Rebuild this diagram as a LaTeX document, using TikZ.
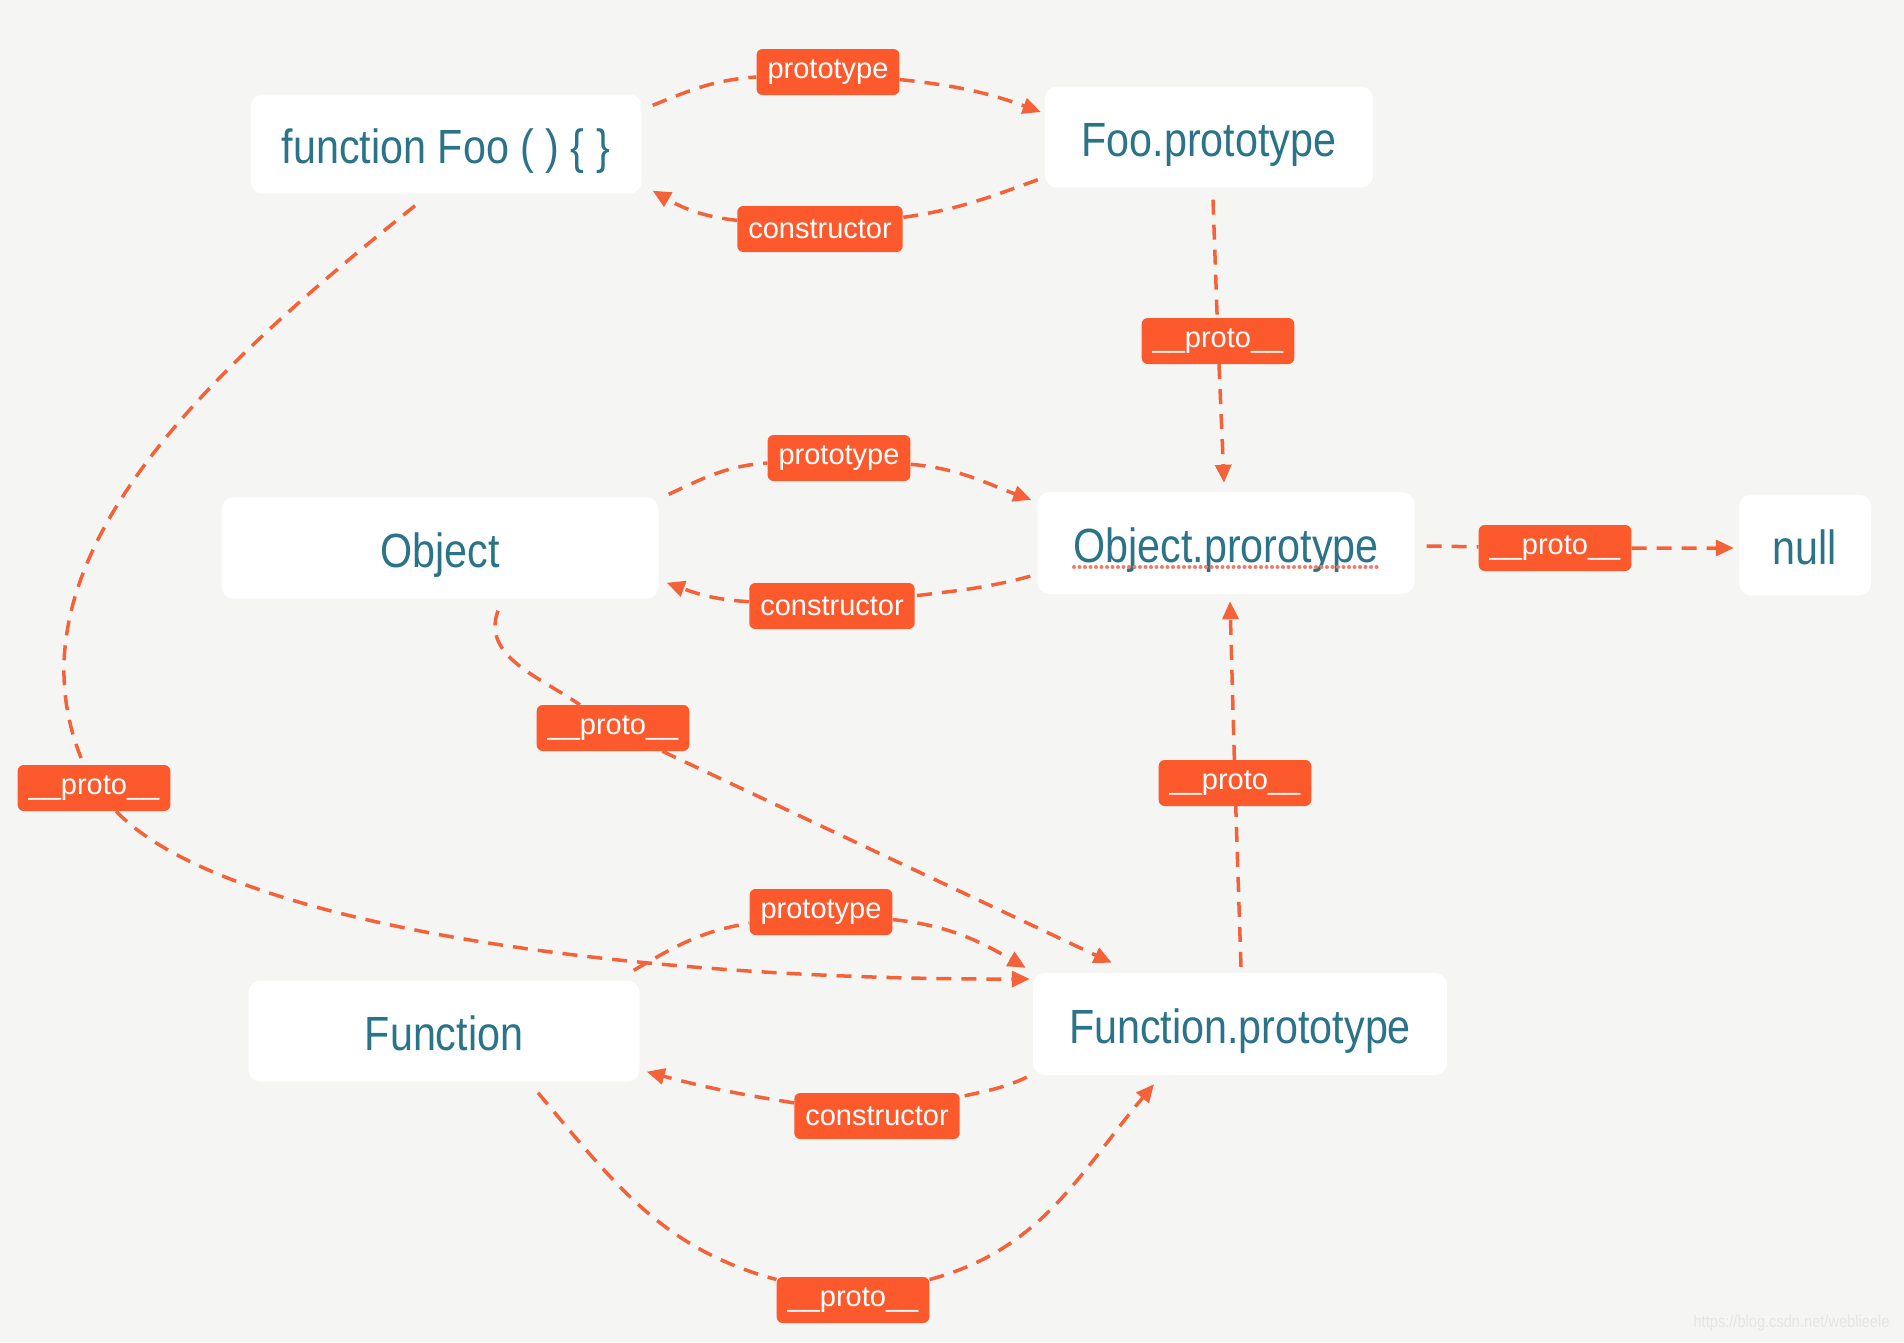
\documentclass[tikz,border=0pt]{standalone}
\usepackage{fontspec}
\usepackage{xcolor}
\usepackage{tikz}
\usetikzlibrary{arrows.meta}
\setmainfont{Liberation Sans}[FakeStretch=0.86]
\newfontfamily\tagfont{Liberation Sans}
\definecolor{bgcol}{HTML}{F5F6F4}
\definecolor{tagcol}{HTML}{FC5A2D}
\definecolor{linkcol}{HTML}{F4623A}
\definecolor{txtcol}{HTML}{2A7389}
\definecolor{markcol}{HTML}{E4E6E4}
\definecolor{spellcol}{HTML}{F07A6A}

\begin{document}
\begin{tikzpicture}[x=1pt,y=1pt,
   box/.style={fill=white, rounded corners=12pt, text=txtcol, inner sep=0pt, text height=38pt, text depth=0pt, font=\fontsize{48}{56}\selectfont},
   tag/.style={fill=tagcol, rounded corners=6pt, text=white, inner xsep=11pt, inner ysep=0pt, minimum width=142pt, minimum height=46pt, font=\tagfont\fontsize{29}{34}\selectfont},
   plain/.style={draw=linkcol, line width=3.5pt, dash pattern=on 15pt off 10pt},
   link/.style={plain, -{Triangle[length=18pt,width=16pt]}}]
   \fill[bgcol] (0,0) rectangle (1904,-1342);
   \useasboundingbox (0,0) rectangle (1904,-1342);
   % boxes
   \node[box, minimum width=391pt, minimum height=99pt] (foo) at (446,-144) {function Foo ( ) \{ \}};
   \node[box, minimum width=328pt, minimum height=101pt] (fooproto) at (1209,-137) {Foo.prototype};
   \node[box, minimum width=437pt, minimum height=101pt] (obj) at (440,-548) {Object};
   \node[box, minimum width=377pt, minimum height=102pt] (objproto) at (1226,-543) {Object.prorotype};
   \node[box, minimum width=132pt, minimum height=101pt] (null) at (1805,-545) {null};
   \node[box, minimum width=391pt, minimum height=101pt] (func) at (444,-1031) {Function};
   \node[box, minimum width=414pt, minimum height=102pt] (funcproto) at (1240,-1024) {Function.prototype};
   \draw[spellcol, line width=4pt, dash pattern=on 0pt off 5.5pt, line cap=round] ([shift={(-152,-24)}]objproto.center) -- ([shift={(152,-24)}]objproto.center);
   % labels
   \node[tag] (pt1) at (828,-72) {prototype};
   \node[tag] (ct1) at (820,-229) {constructor};
   \node[tag] (px1) at (1218,-341) {\_\_proto\_\_};
   \node[tag] (pt2) at (839,-458) {prototype};
   \node[tag] (ct2) at (832,-606) {constructor};
   \node[tag] (px2) at (1555,-548) {\_\_proto\_\_};
   \node[tag] (px3) at (613,-728) {\_\_proto\_\_};
   \node[tag] (px4) at (94,-788) {\_\_proto\_\_};
   \node[tag] (px5) at (1235,-783) {\_\_proto\_\_};
   \node[tag] (pt3) at (821,-912) {prototype};
   \node[tag] (ct3) at (877,-1116) {constructor};
   \node[tag] (px6) at (853,-1300) {\_\_proto\_\_};
   % links
   \draw[link] ([shift={(11,-11)}]foo.north east) to[out=22,in=184] (pt1) to[out=-6,in=160] ([shift={(-4,25)}]fooproto.west);
   \draw[link] ([shift={(-7,8)}]fooproto.south west) to[out=200,in=8] (ct1) to[out=174,in=-30] ([shift={(11,3)}]foo.south east);
   \draw[link] ([shift={(4,-12)}]fooproto.south) -- (px1) -- ([shift={(-2,9)}]objproto.north);
   \draw[link] ([shift={(10,3)}]obj.north east) to[out=25,in=184] (pt2) to[out=-5,in=160] ([shift={(-6,-8)}]objproto.north west);
   \draw[link] ([shift={(-7,18)}]objproto.south west) to[out=195,in=7] (ct2) to[out=177,in=-20] ([shift={(8,16)}]obj.south east);
   \draw[link] ([shift={(12,-3)}]objproto.east) -- (px2) -- ([shift={(-5,-3)}]null.west);
   \draw[link] ([shift={(58,-12)}]obj.south) to[out=250,in=145] (px3) -- ([shift={(79,10)}]funcproto.north west);
   \draw[link] ([shift={(1,6)}]funcproto.north) -- (px5) -- ([shift={(4,-7)}]objproto.south);
   \draw[plain] ([shift={(-31,-12)}]foo.south) .. controls (220,-362) and (-5,-560) .. (px4);
   \draw[link] (px4) .. controls (220,-920) and (600,-980) .. ([shift={(-3,45)}]funcproto.west);
   \draw[link] ([shift={(-6,10)}]func.north east) to[out=30,in=189] (pt3) to[out=-6,in=150] ([shift={(-7,5)}]funcproto.north west);
   \draw[link] ([shift={(-6,-2)}]funcproto.south west) to[out=205,in=13] (ct3) to[out=171,in=-15] ([shift={(7,10)}]func.south east);
   \draw[link] ([shift={(94,-11)}]func.south) to[out=-50,in=165] (px6) to[out=15,in=230] ([shift={(-86,-9)}]funcproto.south);
   \node[text=markcol, anchor=east, font=\fontsize{17}{20}\selectfont] (mark) at (1893,-1323) {https://blog.csdn.net/weblieele};
\end{tikzpicture}
\end{document}
